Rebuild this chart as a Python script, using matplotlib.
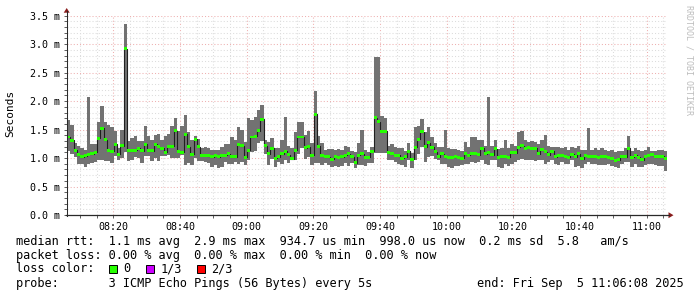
import matplotlib
matplotlib.use("Agg")
import matplotlib.pyplot as plt
import numpy as np
from matplotlib.patches import Rectangle, Polygon
from matplotlib.ticker import MultipleLocator, FuncFormatter

plt.rcParams['font.family'] = ['DejaVu Sans Mono']

# ---------------- data (ms), one value per minute starting 08:06:08 ----------------
median_ms = [
    1.37, 1.31, 1.14, 1.06, 1.02, 1.04, 1.07, 1.08, 1.10, 1.35,
    1.52, 1.32, 1.14, 1.12, 1.24, 1.07, 1.22, 2.92, 1.13, 1.13,
    1.14, 1.17, 1.13, 1.24, 1.13, 1.13, 1.24, 1.20, 1.17, 1.10,
    1.20, 1.21, 1.48, 1.12, 1.10, 1.42, 1.20, 1.07, 1.33, 1.20,
    1.05, 1.05, 1.04, 1.02, 1.04, 1.02, 1.05, 1.05, 1.08, 1.02,
    1.02, 1.24, 1.22, 1.01, 1.14, 1.37, 1.38, 1.48, 1.68, 1.22,
    1.08, 1.17, 1.00, 1.02, 1.08, 1.12, 1.06, 0.99, 1.14, 1.37,
    1.37, 1.18, 1.20, 1.05, 1.77, 1.21, 1.05, 1.02, 1.02, 0.98,
    1.03, 1.01, 1.02, 1.05, 1.08, 1.02, 0.92, 1.05, 1.08, 1.01,
    1.01, 1.12, 1.71, 1.64, 1.46, 1.47, 1.10, 1.08, 1.05, 1.05,
    1.00, 1.02, 1.12, 0.98, 1.19, 1.33, 1.46, 1.20, 1.27, 1.19,
    1.11, 1.02, 1.08, 1.02, 1.01, 1.01, 1.02, 1.01, 1.00, 1.08,
    1.05, 1.08, 1.08, 1.06, 1.17, 1.08, 1.09, 1.06, 1.16, 1.01,
    1.02, 1.03, 1.01, 1.09, 1.09, 1.19, 1.22, 1.17, 1.19, 1.17,
    1.17, 1.08, 1.15, 1.11, 1.06, 1.12, 1.02, 1.05, 1.04, 1.02,
    1.01, 1.07, 1.02, 1.08, 0.99, 1.05, 1.02, 1.02, 1.03, 1.01,
    1.03, 1.02, 1.01, 0.99, 0.96, 0.97, 1.02, 1.02, 1.17, 1.01,
    1.05, 1.01, 0.97, 1.03, 1.05, 1.06, 1.02, 1.02, 1.03, 0.99,
]
min_ms = [
    1.12, 1.08, 1.02, 0.89, 0.90, 0.84, 0.90, 0.92, 0.93, 0.97,
    0.97, 0.95, 0.95, 0.92, 1.03, 0.96, 1.00, 1.10, 0.95, 0.97,
    1.02, 1.00, 0.92, 1.03, 1.04, 0.95, 1.00, 0.95, 1.03, 1.03,
    1.06, 1.00, 1.00, 1.00, 1.06, 0.88, 0.91, 0.87, 1.00, 0.94,
    0.95, 0.93, 0.92, 0.85, 0.87, 0.82, 0.85, 0.93, 0.90, 0.90,
    0.93, 0.90, 0.93, 0.87, 0.96, 1.10, 1.13, 1.27, 1.30, 1.08,
    0.87, 0.99, 0.85, 0.93, 0.90, 0.96, 0.92, 0.96, 0.96, 1.08,
    1.17, 0.99, 1.02, 0.88, 0.91, 0.91, 0.88, 0.91, 0.88, 0.85,
    0.86, 0.85, 0.86, 0.91, 0.86, 0.91, 0.82, 0.88, 0.88, 0.86,
    0.91, 0.91, 1.09, 1.09, 1.09, 1.09, 0.97, 0.97, 0.93, 0.90,
    0.88, 0.85, 0.96, 0.82, 0.96, 1.08, 1.20, 0.93, 1.01, 1.04,
    0.98, 0.96, 0.90, 0.90, 0.85, 0.83, 0.86, 0.86, 0.87, 0.90,
    0.90, 0.93, 0.91, 0.93, 0.96, 0.90, 0.875, 0.96, 0.97, 0.85,
    0.82, 0.90, 0.86, 0.90, 0.93, 0.97, 0.99, 0.96, 0.97, 0.96,
    0.95, 0.96, 0.96, 0.90, 0.93, 0.96, 0.89, 0.875, 0.93, 0.90,
    0.89, 0.96, 0.85, 0.86, 0.82, 0.90, 0.93, 0.90, 0.89, 0.88,
    0.87, 0.875, 0.90, 0.86, 0.85, 0.82, 0.90, 0.93, 0.93, 0.85,
    0.90, 0.85, 0.84, 0.875, 0.90, 0.90, 0.875, 0.86, 0.86, 0.78,
]
max_ms = [
    1.66, 1.58, 1.26, 1.21, 1.17, 1.15, 2.07, 1.25, 1.25, 1.63,
    1.91, 1.63, 1.58, 1.55, 1.47, 1.18, 1.49, 3.35, 1.30, 1.36,
    1.38, 1.30, 1.30, 1.56, 1.38, 1.32, 1.40, 1.42, 1.32, 1.38,
    1.42, 1.56, 1.70, 1.48, 1.56, 1.75, 1.46, 1.31, 1.38, 1.34,
    1.17, 1.20, 1.17, 1.14, 1.14, 1.14, 1.20, 1.25, 1.25, 1.37,
    1.31, 1.55, 1.50, 1.28, 1.70, 1.66, 1.72, 1.84, 1.93, 1.31,
    1.29, 1.35, 1.17, 1.17, 1.31, 1.72, 1.22, 1.17, 1.45, 1.63,
    1.63, 1.40, 1.48, 1.26, 2.18, 1.38, 1.26, 1.14, 1.16, 1.16,
    1.14, 1.16, 1.14, 1.21, 1.19, 1.13, 1.11, 1.26, 1.49, 1.14,
    1.11, 1.19, 2.77, 2.77, 1.74, 1.70, 1.21, 1.25, 1.20, 1.17,
    1.17, 1.13, 1.27, 1.09, 1.55, 1.57, 1.68, 1.45, 1.55, 1.37,
    1.27, 1.19, 1.20, 1.50, 1.17, 1.16, 1.16, 1.14, 1.13, 1.28,
    1.19, 1.37, 1.37, 1.31, 1.31, 1.22, 2.07, 1.22, 1.31, 1.16,
    1.18, 1.31, 1.18, 1.25, 1.22, 1.46, 1.48, 1.31, 1.28, 1.30,
    1.28, 1.25, 1.31, 1.40, 1.22, 1.20, 1.19, 1.19, 1.17, 1.19,
    1.14, 1.19, 1.17, 1.22, 1.15, 1.14, 1.52, 1.14, 1.17, 1.14,
    1.17, 1.14, 1.13, 1.14, 1.11, 1.12, 1.13, 1.17, 1.38, 1.13,
    1.17, 1.14, 1.13, 1.14, 1.19, 1.13, 1.13, 1.14, 1.14, 1.13,
]
start_minutes = 6 + 8 / 60.0      # 08:06:08, minutes after 08:00
step_minutes = 1.0
y_ticks_ms = [0.0, 0.5, 1.0, 1.5, 2.0, 2.5, 3.0, 3.5]

legend_line1 = "median rtt:  1.1 ms avg  2.9 ms max  934.7 us min  998.0 us now  0.2 ms sd  5.8   am/s"
legend_line2 = "packet loss: 0.00 % avg  0.00 % max  0.00 % min  0.00 % now"
loss_labels = ["0", "1/3", "2/3"]
loss_colors = ["#26ff00", "#cc00ff", "#ff0000"]
probe_line = "probe:       3 ICMP Echo Pings (56 Bytes) every 5s"
end_line = "end: Fri Sep  5 11:06:08 2025"

# ---------------- figure ----------------
W, H = 697, 297
fig = plt.figure(figsize=(W / 100, H / 100), dpi=100)
fig.patch.set_facecolor("white")

X0, X1 = 67, 667
YT, YB = 15.7, 215
ax = fig.add_axes([X0 / W, 1 - YB / H, (X1 - X0) / W, (YB - YT) / H])
ax.set_facecolor("white")

n = len(median_ms)
med = np.array(median_ms)
lo = np.array(min_ms)
hi = np.array(max_ms)
edges = start_minutes + step_minutes * np.arange(n + 1)

def ext(a):
    return np.append(a, a[-1])

ax.fill_between(edges, ext(lo), ext(hi), step="post", color="#727272", lw=0, zorder=2)
ax.step(edges, ext(med), where="post", color="#202020", lw=0.8, zorder=3)
band = 0.026
ax.fill_between(edges, ext(med - band), ext(med + band), step="post",
                color=loss_colors[0], lw=0, zorder=4)

ax.set_xlim(start_minutes, start_minutes + n * step_minutes)
ax.set_ylim(0, 3.5)

ax.xaxis.set_major_locator(MultipleLocator(20))
ax.xaxis.set_minor_locator(MultipleLocator(5))
ax.xaxis.set_major_formatter(FuncFormatter(
    lambda v, p: f"{8 + int(round(v)) // 60:02d}:{int(round(v)) % 60:02d}"))
ax.set_yticks(y_ticks_ms)
ax.yaxis.set_minor_locator(MultipleLocator(0.1))
ax.set_yticklabels([f"{v:.1f} m" for v in y_ticks_ms])

ax.set_axisbelow(True)
ax.grid(which="major", color="#eeb0b0", linestyle=(0, (1, 2)), linewidth=0.75)
ax.grid(which="minor", color="#dcdcdc", linestyle=(0, (1, 2)), linewidth=0.75)
for s in ax.spines.values():
    s.set_visible(False)
ax.tick_params(which="both", direction="out", length=2, width=0.6, color="#444444",
               labelsize=7.2, labelcolor="black")
ax.tick_params(axis="x", pad=3)
ax.tick_params(axis="y", pad=3.4)

# ---------------- overlay in pixel coordinates ----------------
ov = fig.add_axes([0, 0, 1, 1])
ov.set_xlim(0, W)
ov.set_ylim(H, 0)
ov.axis("off")
ov.patch.set_alpha(0)

axis_col = "#2a2a2a"
arrow_col = "#8a1c1c"
ov.plot([66.7, 66.7], [215.5, 11], color=axis_col, lw=0.75)
ov.plot([66.2, 669], [215.2, 215.2], color=axis_col, lw=0.9)
ov.add_patch(Polygon([[63.7, 12.7], [69.7, 12.7], [66.7, 8.0]], closed=True,
                     color=arrow_col, lw=0))
ov.add_patch(Polygon([[668.5, 212.2], [668.5, 218.2], [673.5, 215.2]], closed=True,
                     color=arrow_col, lw=0))

ov.text(10, 113.5, "Seconds", rotation=90, ha="center", va="center",
        fontsize=8.0, color="black")
ov.text(688.5, 5, "RRDTOOL / TOBI OETIKER", rotation=270, ha="center", va="top",
        fontsize=6.0, color="#bdbdbd")

fs = 8.55
ov.text(16, 241, legend_line1, ha="left", va="center", fontsize=fs)
ov.text(16, 255, legend_line2, ha="left", va="center", fontsize=fs)
ov.text(16, 269, "loss color:", ha="left", va="center", fontsize=fs)
box_x = [108.5, 146.0, 197.0]
lab_x = [123.5, 160.5, 211.5]
for bx, lx, lab, col in zip(box_x, lab_x, loss_labels, loss_colors):
    ov.add_patch(Rectangle((bx, 264.5), 8, 8, facecolor=col, edgecolor="black", lw=0.7))
    ov.text(lx, 269, lab, ha="left", va="center", fontsize=fs)
ov.text(16, 283, probe_line, ha="left", va="center", fontsize=fs)
ov.text(684, 283, end_line, ha="right", va="center", fontsize=fs)

fig.savefig("out.png", dpi=100, facecolor="white")
